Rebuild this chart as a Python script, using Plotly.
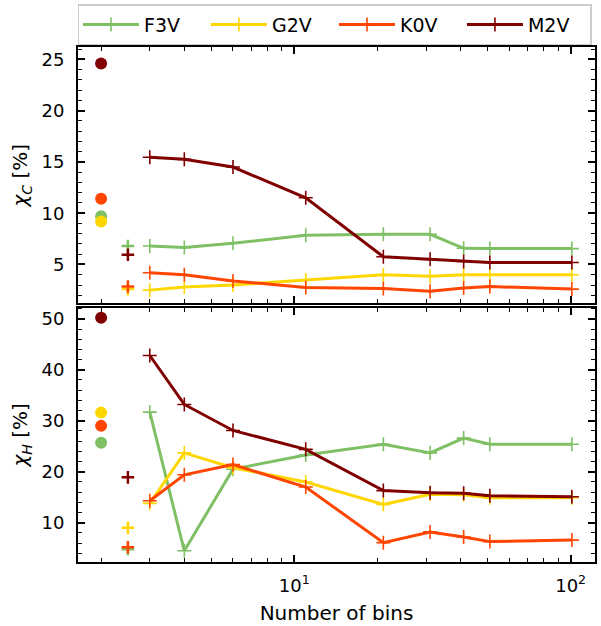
import plotly.graph_objects as go

# Spectral types and their colours
stars = ["F3V", "G2V", "K0V", "M2V"]
star_colors = ["#7fc065", "#ffd700", "#ff4500", "#800000"]

# Number of bins used for the binned estimates
bins = [3, 4, 6, 11, 21, 31, 41, 51, 101]

# chi_C [%] per number of bins
chi_c_f3v = [6.8, 6.65, 7.07, 7.85, 7.94, 7.94, 6.58, 6.55, 6.55]
chi_c_g2v = [2.5, 2.8, 3.0, 3.5, 4.0, 3.85, 4.0, 4.0, 4.0]
chi_c_k0v = [4.2, 4.0, 3.4, 2.75, 2.65, 2.4, 2.7, 2.85, 2.6]
chi_c_m2v = [15.45, 15.25, 14.5, 11.5, 5.75, 5.5, 5.3, 5.2, 5.2]

# chi_H [%] per number of bins
chi_h_f3v = [31.7, 4.5, 20.5, 23.3, 25.4, 23.7, 26.6, 25.4, 25.4]
chi_h_g2v = [13.8, 23.7, 20.8, 18.0, 13.6, 15.6, 15.5, 14.9, 14.9]
chi_h_k0v = [14.3, 19.4, 21.4, 17.0, 6.1, 8.2, 7.2, 6.3, 6.6]
chi_h_m2v = [42.8, 33.2, 28.1, 24.4, 16.3, 15.9, 15.8, 15.3, 15.1]

# Reference values (circles) and unbinned values (pluses)
ref_x = 2
unbinned_x = 2.5
chi_c_ref = [9.7, 9.2, 11.4, 24.6]
chi_c_unbinned = [6.8, 2.6, 2.85, 5.95]
chi_h_ref = [25.7, 31.6, 29.0, 50.2]
chi_h_unbinned = [4.8, 9.0, 5.2, 18.9]

chi_c_series = [chi_c_f3v, chi_c_g2v, chi_c_k0v, chi_c_m2v]
chi_h_series = [chi_h_f3v, chi_h_g2v, chi_h_k0v, chi_h_m2v]

fig = go.Figure()

panels = [
    ("x", "y", chi_c_series, chi_c_ref, chi_c_unbinned, True),
    ("x2", "y2", chi_h_series, chi_h_ref, chi_h_unbinned, False),
]

for xa, ya, series, ref, unb, legend in panels:
    for i, name in enumerate(stars):
        c = star_colors[i]
        fig.add_trace(go.Scatter(
            x=bins, y=series[i], mode="lines+markers", name=name,
            xaxis=xa, yaxis=ya, legendgroup=name, showlegend=legend,
            line=dict(color=c, width=3),
            marker=dict(symbol="cross-thin", size=10, color=c,
                        line=dict(width=1.6, color=c)),
        ))
    for i, name in enumerate(stars):
        c = star_colors[i]
        fig.add_trace(go.Scatter(
            x=[ref_x], y=[ref[i]], mode="markers", xaxis=xa, yaxis=ya,
            legendgroup=name, showlegend=False,
            marker=dict(symbol="circle", size=12, color=c),
        ))
    for i, name in enumerate(stars):
        c = star_colors[i]
        fig.add_trace(go.Scatter(
            x=[unbinned_x], y=[unb[i]], mode="markers", xaxis=xa, yaxis=ya,
            legendgroup=name, showlegend=False,
            marker=dict(symbol="cross-thin", size=9, color=c,
                        line=dict(width=2.5, color=c)),
        ))

font_family = "DejaVu Sans"
minor_x = [2, 3, 4, 5, 6, 7, 8, 9, 20, 30, 40, 50, 60, 70, 80, 90]
xrange_log = [0.2174, 2.088]

axis_common = dict(
    showline=True, linewidth=2, linecolor="black", mirror="allticks",
    ticks="inside", ticklen=7, tickwidth=1.5, tickcolor="black",
    showgrid=False, zeroline=False,
    tickfont=dict(family=font_family, size=18, color="black"),
)

fig.update_layout(
    width=601, height=626,
    margin=dict(l=78, r=4, t=46, b=64),
    paper_bgcolor="white", plot_bgcolor="white",
    font=dict(family=font_family, color="black"),
    xaxis=dict(
        type="log", range=xrange_log, domain=[0, 1], anchor="y",
        tickvals=[10, 100], showticklabels=False, matches="x2",
        minor=dict(tickvals=minor_x, ticks="inside", ticklen=4,
                   tickwidth=1.2, tickcolor="black"),
        **axis_common,
    ),
    xaxis2=dict(
        type="log", range=xrange_log, domain=[0, 1], anchor="y2",
        tickvals=[10, 100], ticktext=["10<sup>1</sup>", "10<sup>2</sup>"],
        minor=dict(tickvals=minor_x, ticks="inside", ticklen=4,
                   tickwidth=1.2, tickcolor="black"),
        title=dict(text="Number of bins", font=dict(size=20), standoff=11),
        ticklabelstandoff=6,
        **axis_common,
    ),
    yaxis=dict(
        domain=[0.502, 1.0], anchor="x", range=[1.2, 26.2],
        tickvals=[5, 10, 15, 20, 25],
        minor=dict(dtick=1, ticks="inside", ticklen=4, tickwidth=1.2,
                   tickcolor="black"),
        title=dict(text="<i>χ<sub>C</sub></i> [%]", font=dict(size=20),
                   standoff=8),
        ticklabelstandoff=8,
        **axis_common,
    ),
    yaxis2=dict(
        domain=[0.0, 0.494], anchor="x2", range=[2.3, 52.2],
        tickvals=[10, 20, 30, 40, 50],
        minor=dict(dtick=2, ticks="inside", ticklen=4, tickwidth=1.2,
                   tickcolor="black"),
        title=dict(text="<i>χ<sub>H</sub></i> [%]", font=dict(size=20),
                   standoff=8),
        ticklabelstandoff=8,
        **axis_common,
    ),
    legend=dict(
        orientation="h", x=-0.0001, xanchor="left", y=1.083, yanchor="top",
        itemwidth=56, entrywidth=57, entrywidthmode="pixels",
        bordercolor="#cccccc", borderwidth=1.5, bgcolor="white",
        font=dict(family=font_family, size=19, color="black"),
    ),
)

fig.write_html("out.html")
